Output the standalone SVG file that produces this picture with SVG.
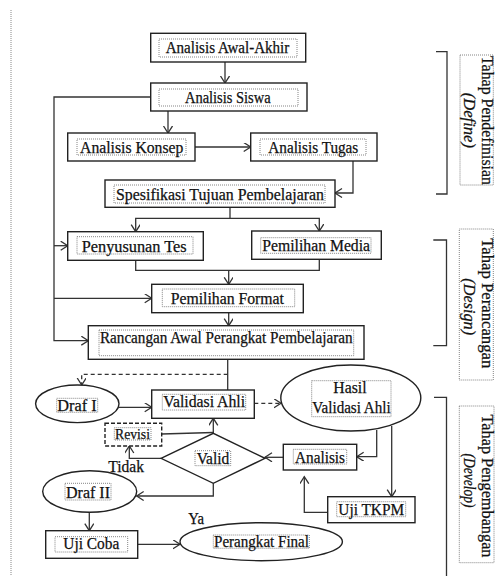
<svg xmlns="http://www.w3.org/2000/svg" width="496" height="576" viewBox="0 0 496 576">
<style>
  .box{fill:#fff;stroke:#222;stroke-width:1.4}
  .inner{fill:none;stroke:#666;stroke-width:0.8;stroke-dasharray:1 1}
  .ln{fill:none;stroke:#333;stroke-width:1.3}
  .dash{stroke-dasharray:4 3}
  text{font-family:"Liberation Serif","Times New Roman",serif;font-size:16px;fill:#111;stroke:#111;stroke-width:0.25}
  .c{text-anchor:middle}
  .it{font-style:italic}
</style>
<defs>
  <marker id="ah" markerUnits="userSpaceOnUse" markerWidth="12" markerHeight="12" refX="7.5" refY="4.5" orient="auto">
    <path d="M0.5,0 L7.5,4.5 L0.5,9" fill="none" stroke="#333" stroke-width="1.3"/>
  </marker>
</defs>
<rect width="496" height="576" fill="#fff"/>
<line x1="11" y1="10" x2="11" y2="576" stroke="#888" stroke-width="1" stroke-dasharray="1 1"/>

<g id="connectors">
  <path class="ln" d="M225,62 V83" marker-end="url(#ah)"/>
  <path class="ln" d="M168,111 V133" marker-end="url(#ah)"/>
  <path class="ln" d="M150.7,97 H54 V340.7 H88.3" marker-end="url(#ah)"/>
  <path class="ln" d="M54,245.7 H67.7" marker-end="url(#ah)"/>
  <path class="ln" d="M54,298.3 H151.7" marker-end="url(#ah)"/>
  <path class="ln" d="M195,147 H250.7" marker-end="url(#ah)"/>
  <path class="ln" d="M353,161 V193 H335" marker-end="url(#ah)"/>
  <path class="ln" d="M230,207.3 V218.3"/>
  <path class="ln" d="M230,218.3 H135.7 V231.7" marker-end="url(#ah)"/>
  <path class="ln" d="M230,218.3 H319.3 V231" marker-end="url(#ah)"/>
  <path class="ln" d="M135.7,260.3 V270.3 H319.3 V259.3"/>
  <path class="ln" d="M228.7,270.3 V284.3" marker-end="url(#ah)"/>
  <path class="ln" d="M228.7,312.7 V325.7" marker-end="url(#ah)"/>
  <path class="ln" d="M227.7,359.3 V390"/>
  <path class="ln dash" d="M227.7,374.3 H81.7 V385" marker-end="url(#ah)"/>
  <path class="ln" d="M119,407.3 H151.7" marker-end="url(#ah)"/>
  <path class="ln dash" d="M254.3,403.3 H281" marker-end="url(#ah)"/>
  <path class="ln" d="M376.7,430 V456.7 H356.7" marker-end="url(#ah)"/>
  <path class="ln" d="M391.7,426 V496.7" marker-end="url(#ah)"/>
  <path class="ln" d="M283.3,457.3 H265" marker-end="url(#ah)"/>
  <path class="ln" d="M213.3,433.3 V418.3" marker-end="url(#ah)"/>
  <path class="ln" d="M161.7,434 L213.3,432.5"/>
  <path class="ln" d="M161,458.3 H129.3 V446" marker-end="url(#ah)"/>
  <path class="ln" d="M213.3,483.3 V496 H136.7" marker-end="url(#ah)"/>
  <path class="ln" d="M89.3,512.3 V530.7" marker-end="url(#ah)"/>
  <path class="ln" d="M137.7,544.3 H180" marker-end="url(#ah)"/>
  <path class="ln" d="M327.7,512.3 H304.3 V476.7" marker-end="url(#ah)"/>
</g>

<g id="n-awal-akhir">
  <rect class="box" x="150.7" y="33.3" width="155" height="28.7"/>
  <rect class="inner" x="159" y="39" width="138" height="18"/>
  <text class="c" x="227.5" y="53.3" textLength="123.6" lengthAdjust="spacingAndGlyphs">Analisis Awal-Akhir</text>
</g>
<g id="n-siswa">
  <rect class="box" x="150.7" y="83" width="156.3" height="28"/>
  <rect class="inner" x="159" y="89" width="139" height="17"/>
  <text class="c" x="227.8" y="102.5" textLength="85.7" lengthAdjust="spacingAndGlyphs">Analisis Siswa</text>
</g>
<g id="n-konsep">
  <rect class="box" x="67.7" y="133" width="127.3" height="28"/>
  <rect class="inner" x="77" y="139" width="109" height="16"/>
  <text class="c" x="131.7" y="152.7" textLength="103.3" lengthAdjust="spacingAndGlyphs">Analisis Konsep</text>
</g>
<g id="n-tugas">
  <rect class="box" x="250.7" y="133" width="126.3" height="28"/>
  <rect class="inner" x="260" y="139" width="106" height="16"/>
  <text class="c" x="313.3" y="152.7" textLength="90" lengthAdjust="spacingAndGlyphs">Analisis Tugas</text>
</g>
<g id="n-spesifikasi">
  <rect class="box" x="105" y="180" width="230" height="27.3"/>
  <rect class="inner" x="114" y="185" width="211" height="18"/>
  <text class="c" x="220" y="199.5" textLength="208" lengthAdjust="spacingAndGlyphs">Spesifikasi Tujuan Pembelajaran</text>
</g>
<g id="n-penyusunan-tes">
  <rect class="box" x="67.7" y="231.7" width="135.6" height="28.6"/>
  <rect class="inner" x="77" y="236.7" width="116" height="17.3"/>
  <text class="c" x="134.2" y="251.5" textLength="105" lengthAdjust="spacingAndGlyphs">Penyusunan Tes</text>
</g>
<g id="n-pemilihan-media">
  <rect class="box" x="251.7" y="231" width="129.6" height="28.3"/>
  <rect class="inner" x="260.7" y="237.7" width="110.3" height="15.6"/>
  <text class="c" x="316.2" y="251" textLength="107.7" lengthAdjust="spacingAndGlyphs">Pemilihan Media</text>
</g>
<g id="n-pemilihan-format">
  <rect class="box" x="151.7" y="284.3" width="151.6" height="28.4"/>
  <rect class="inner" x="162.3" y="289" width="132.4" height="17.7"/>
  <text class="c" x="227.3" y="304" textLength="113.3" lengthAdjust="spacingAndGlyphs">Pemilihan Format</text>
</g>
<g id="n-rancangan">
  <rect class="box" x="88.3" y="325.7" width="275.7" height="33.6"/>
  <rect class="inner" x="99" y="330" width="254.7" height="25.7"/>
  <text class="c" x="226.3" y="343" textLength="252.7" lengthAdjust="spacingAndGlyphs">Rancangan Awal Perangkat Pembelajaran</text>
</g>
<g id="n-draf1">
  <ellipse class="box" cx="77.3" cy="403.8" rx="41.7" ry="18.8"/>
  <rect class="inner" x="56.7" y="398.3" width="41" height="14"/>
  <text class="c" x="77" y="410.8" textLength="39.3" lengthAdjust="spacingAndGlyphs">Draf I</text>
</g>
<g id="n-validasi-ahli">
  <rect class="box" x="151.7" y="390" width="102.6" height="28.3"/>
  <rect class="inner" x="162.3" y="394.3" width="83.4" height="15.7"/>
  <text class="c" x="204.2" y="407.3" textLength="81.7" lengthAdjust="spacingAndGlyphs">Validasi Ahli</text>
</g>
<g id="n-hasil-validasi">
  <ellipse class="box" cx="350.8" cy="398" rx="70" ry="33"/>
  <rect class="inner" x="311.7" y="380.7" width="79.3" height="36"/>
  <text class="c" x="350" y="393.3" textLength="33.3" lengthAdjust="spacingAndGlyphs">Hasil</text>
  <text class="c" x="351.5" y="413.3" textLength="78.3" lengthAdjust="spacingAndGlyphs">Validasi Ahli</text>
</g>
<g id="n-revisi">
  <rect class="box" x="105" y="423.3" width="56.7" height="22.7" style="stroke-dasharray:4 2"/>
  <rect class="inner" x="114.3" y="427.7" width="36.7" height="12.3"/>
  <text class="c" x="132.5" y="438.7" style="font-size:14px" textLength="35" lengthAdjust="spacingAndGlyphs">Revisi</text>
</g>
<g id="n-valid">
  <polygon class="box" points="161,458.3 213.3,433.3 265,458.3 213.3,483.3"/>
  <rect class="inner" x="195" y="450.7" width="35.7" height="15"/>
  <text class="c" x="213" y="464" textLength="32.7" lengthAdjust="spacingAndGlyphs">Valid</text>
</g>
<g id="n-analisis">
  <rect class="box" x="283.3" y="444.3" width="73.4" height="25.7"/>
  <rect class="inner" x="293.3" y="449.3" width="53.4" height="14.7"/>
  <text class="c" x="320" y="462.7" textLength="50" lengthAdjust="spacingAndGlyphs">Analisis</text>
</g>
<g id="n-draf2">
  <ellipse class="box" cx="89.7" cy="491.5" rx="47" ry="20.8"/>
  <rect class="inner" x="65" y="483.3" width="46" height="16.7"/>
  <text class="c" x="88" y="498.3" textLength="44" lengthAdjust="spacingAndGlyphs">Draf II</text>
</g>
<g id="n-uji-coba">
  <rect class="box" x="45.7" y="530.7" width="92" height="27.6"/>
  <rect class="inner" x="55" y="536.7" width="72.7" height="15.3"/>
  <text class="c" x="91.3" y="549.3" textLength="56" lengthAdjust="spacingAndGlyphs">Uji Coba</text>
</g>
<g id="n-perangkat-final">
  <ellipse class="box" cx="261.2" cy="541.7" rx="81.2" ry="19"/>
  <rect class="inner" x="213.3" y="535" width="96" height="13.3"/>
  <text class="c" x="261.5" y="546.7" textLength="95" lengthAdjust="spacingAndGlyphs">Perangkat Final</text>
</g>
<g id="n-uji-tkpm">
  <rect class="box" x="327.7" y="496.7" width="87.3" height="26"/>
  <rect class="inner" x="336.7" y="501.7" width="69" height="15"/>
  <text class="c" x="371.2" y="515" textLength="65.7" lengthAdjust="spacingAndGlyphs">Uji TKPM</text>
</g>
<g id="labels">
  <text x="108.3" y="472.3" textLength="35.7" lengthAdjust="spacingAndGlyphs">Tidak</text>
  <text x="188.3" y="524" textLength="15.7" lengthAdjust="spacingAndGlyphs">Ya</text>
</g>

<g id="phase-define">
  <path class="ln" d="M436,51.7 H447 V194 H436"/>
  <rect class="inner" x="460" y="55" width="33.3" height="130"/>
  <text class="c" transform="translate(481.5,120.5) rotate(90)" textLength="129" lengthAdjust="spacingAndGlyphs">Tahap Pendefinisian</text>
  <text class="c it" transform="translate(463.5,120.3) rotate(90)" textLength="55.3" lengthAdjust="spacingAndGlyphs">(Define)</text>
</g>
<g id="phase-design">
  <path class="ln" d="M433.3,240 H446.5 V345.7 H433.3"/>
  <rect class="inner" x="459.3" y="229" width="34" height="151"/>
  <text class="c" transform="translate(481.5,303.3) rotate(90)" textLength="130" lengthAdjust="spacingAndGlyphs">Tahap Perancangan</text>
  <text class="c it" transform="translate(463.5,306.7) rotate(90)" textLength="56.7" lengthAdjust="spacingAndGlyphs">(Design)</text>
</g>
<g id="phase-develop">
  <path class="ln" d="M434,397.3 H446.5 V576"/>
  <rect class="inner" x="459.3" y="406" width="34.7" height="156.7"/>
  <text class="c" transform="translate(481.5,486) rotate(90)" textLength="143" lengthAdjust="spacingAndGlyphs">Tahap Pengembangan</text>
  <text class="c it" transform="translate(463.5,480.5) rotate(90)" textLength="54" lengthAdjust="spacingAndGlyphs">(Develop)</text>
</g>
</svg>
